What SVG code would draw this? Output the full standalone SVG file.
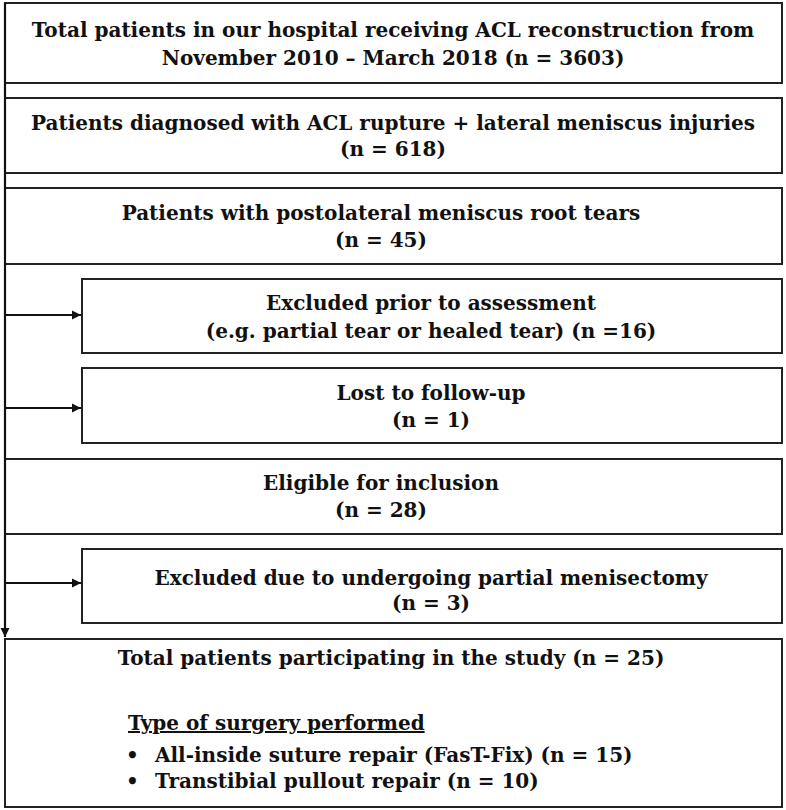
<svg xmlns="http://www.w3.org/2000/svg" width="786" height="810" viewBox="0 0 786 810">
<defs>
<style>
.box{fill:#fff;stroke:#222;stroke-width:2}
.t{font-family:"DejaVu Serif","Liberation Serif",serif;font-size:20px;font-weight:bold;fill:#111;text-anchor:middle}
.l{text-anchor:start}
.conn{stroke:#111;stroke-width:2.2;fill:none}
</style>
<marker id="ah" viewBox="0 0 10 10" refX="10" refY="5" markerWidth="4.2" markerHeight="4.2" orient="auto" markerUnits="strokeWidth">
<path d="M0,0 L10,5 L0,10 z" fill="#111"/>
</marker>
</defs>
<rect width="786" height="810" fill="#fff"/>
<g id="n1"><rect class="box" x="5" y="3" width="777" height="80"/>
<text class="t" x="393" y="37">Total patients in our hospital receiving ACL reconstruction from</text>
<text class="t" x="393" y="65">November 2010 – March 2018 (n = 3603)</text></g>
<g id="n2"><rect class="box" x="5" y="98" width="777" height="75"/>
<text class="t" x="393" y="130">Patients diagnosed with ACL rupture + lateral meniscus injuries</text>
<text class="t" x="393" y="156">(n = 618)</text></g>
<g id="n3"><rect class="box" x="5" y="188" width="777" height="76"/>
<text class="t" x="381" y="220">Patients with postolateral meniscus root tears</text>
<text class="t" x="381" y="247">(n = 45)</text></g>
<g id="n4"><rect class="box" x="82" y="279" width="700" height="74"/>
<text class="t" x="431" y="310">Excluded prior to assessment</text>
<text class="t" x="431" y="338">(e.g. partial tear or healed tear) (n =16)</text></g>
<g id="n5"><rect class="box" x="82" y="368" width="700" height="75"/>
<text class="t" x="431" y="400">Lost to follow-up</text>
<text class="t" x="431" y="427">(n = 1)</text></g>
<g id="n6"><rect class="box" x="5" y="459" width="777" height="75"/>
<text class="t" x="381" y="490">Eligible for inclusion</text>
<text class="t" x="381" y="517">(n = 28)</text></g>
<g id="n7"><rect class="box" x="82" y="549" width="700" height="74"/>
<text class="t" x="431" y="585">Excluded due to undergoing partial menisectomy</text>
<text class="t" x="431" y="610">(n = 3)</text></g>
<g id="n8"><rect class="box" x="5" y="639" width="777" height="168"/>
<text class="t" x="391" y="665">Total patients participating in the study (n = 25)</text>
<text class="t l" x="128" y="730" text-decoration="underline">Type of surgery performed</text>
<text class="t l" x="126" y="762">•</text>
<text class="t l" x="155" y="762">All-inside suture repair (FasT-Fix) (n = 15)</text>
<text class="t l" x="126" y="788">•</text>
<text class="t l" x="155" y="788">Transtibial pullout repair (n = 10)</text></g>
<g id="connectors">
<line class="conn" x1="5" y1="3" x2="5" y2="637" marker-end="url(#ah)"/>
<line class="conn" x1="5" y1="315" x2="81" y2="315" marker-end="url(#ah)"/>
<line class="conn" x1="5" y1="408" x2="81" y2="408" marker-end="url(#ah)"/>
<line class="conn" x1="5" y1="583" x2="81" y2="583" marker-end="url(#ah)"/>
</g>
</svg>
